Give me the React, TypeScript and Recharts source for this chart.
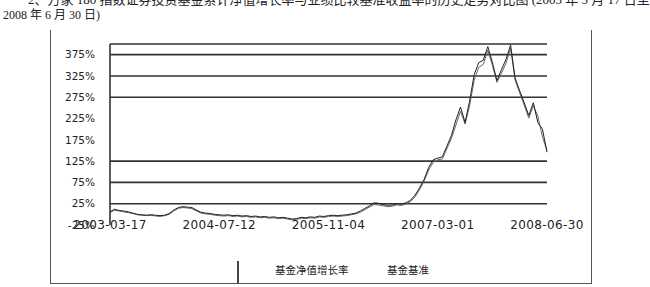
import React from 'react';
import { LineChart, Line, XAxis, YAxis, ReferenceLine } from 'recharts';

// 累计净值增长率 (%), roughly every 20 days
const fundGrowth = [
  6, 12, 9, 8, 6, 3, 0, -1, -2, -1, -2,
  -3, -2, 2, 10, 16, 18, 17, 16, 10, 5,
  3, 2, 0, -1, -2, -1, -3, -2, -4, -3,
  -5, -4, -6, -5, -7, -6, -8, -7, -9, -11,
  -10, -7, -8, -6, -7, -4, -5, -3, -2, -3,
  -2, -1, 1, 3, 8, 14, 20, 27, 26, 23,
  21, 22, 25, 24, 27, 33, 45, 62, 82, 110,
  128, 132, 135, 160, 185, 222, 252, 216, 266, 328,
  356, 362, 394, 357, 314, 340, 364, 398, 320, 290,
  262, 232, 262, 215, 200, 146,
];

// 业绩比较基准收益率 (%)
const benchmarkReturn = [
  4, 10, 8, 6, 4, 2, -1, -2, -3, -2, -4,
  -5, -3, 0, 8, 14, 16, 15, 13, 8, 3,
  1, 0, -2, -3, -4, -3, -5, -4, -6, -5,
  -7, -6, -8, -7, -9, -8, -10, -9, -11, -13,
  -12, -9, -10, -8, -9, -6, -7, -5, -4, -5,
  -4, -3, -1, 1, 5, 11, 17, 23, 22, 20,
  18, 19, 22, 21, 24, 30, 41, 58, 78, 104,
  122, 128, 130, 154, 178, 210, 242, 212, 255, 315,
  345, 352, 385, 350, 310, 332, 355, 390, 315, 285,
  256, 226, 255, 230, 182, 150,
];

const dateLabels = ['2003-03-17', '2004-07-12', '2005-11-04', '2007-03-01', '2008-06-30'];
const yTicks = [-25, 25, 75, 125, 175, 225, 275, 325, 375];
// only these rules survived in the scan (400 is the top edge)
const gridValues = [25, 75, 125, 275, 325, 375, 400];
const seriesNames = ['基金净值增长率', '基金基准'];

const data = fundGrowth.map((v, i) => ({ idx: i, fund: v, bench: benchmarkReturn[i] }));
const last = fundGrowth.length - 1;
const xTicks = dateLabels.map((_, i) => (last * i) / (dateLabels.length - 1));

const serif = '"Liberation Serif", "Noto Sans CJK SC", serif';
const ink = '#333';

export default function App() {
  return (
    <div style={{ position: 'absolute', left: 0, top: 0, width: 650, height: 287, background: '#fff', overflow: 'hidden', fontFamily: serif, color: '#222' }}>
      {/* caption, first line is cut by the page edge */}
      <div style={{ position: 'absolute', left: 28, top: -8, fontSize: 13, lineHeight: '16px', whiteSpace: 'nowrap' }}>
        2、万家 180 指数证券投资基金累计净值增长率与业绩比较基准收益率的历史走势对比图 (2003 年 3 月 17 日至
      </div>
      <div style={{ position: 'absolute', left: 3, top: 7, fontSize: 12, lineHeight: '16px', whiteSpace: 'nowrap' }}>
        2008 年 6 月 30 日)
      </div>

      {/* outer frame */}
      <div style={{ position: 'absolute', left: 50, top: 30, width: 540, height: 253, borderLeft: '1.5px solid #555', borderRight: '1.5px solid #555', borderBottom: '1.5px solid #555' }} />

      <div style={{ position: 'absolute', left: 0, top: 0 }}>
        <LineChart width={650} height={287} data={data} margin={{ top: 44, right: 103, bottom: 42, left: 0 }}>
          <XAxis
            dataKey="idx"
            type="number"
            domain={[0, last]}
            ticks={xTicks}
            tickFormatter={(v: number) => dateLabels[xTicks.indexOf(v)] ?? ''}
            height={20}
            axisLine={false}
            tickLine={false}
            tickSize={0}
            tickMargin={-5}
            interval={0}
            tick={{ fontSize: 12, fill: '#222', fontFamily: 'DejaVu Sans', letterSpacing: 0.4 }}
          />
          <YAxis
            domain={[-25, 400]}
            allowDataOverflow
            ticks={yTicks}
            tickFormatter={(v: number) => `${v}%`}
            width={110}
            tickLine={false}
            tickSize={6}
            tickMargin={9}
            axisLine={{ stroke: ink, strokeWidth: 1.6 }}
            tick={{ fontSize: 10.5, fill: '#222', fontFamily: 'DejaVu Sans' }}
          />
          <YAxis
            yAxisId="right"
            orientation="right"
            domain={[-25, 400]}
            width={0}
            tick={false}
            tickLine={false}
            axisLine={{ stroke: ink, strokeWidth: 1.6 }}
          />
          {gridValues.map((v) => (
            <ReferenceLine key={v} y={v} stroke={ink} strokeWidth={1.6} ifOverflow="extendDomain" />
          ))}
          <Line dataKey="bench" name={seriesNames[1]} stroke="#666" strokeWidth={1} dot={false} isAnimationActive={false} />
          <Line dataKey="fund" name={seriesNames[0]} stroke="#222" strokeWidth={1} dot={false} isAnimationActive={false} />
        </LineChart>
      </div>

      {/* legend */}
      <div style={{ position: 'absolute', left: 237, top: 261, width: 1.5, height: 22, background: '#444' }} />
      <div style={{ position: 'absolute', left: 275, top: 262, fontSize: 10.5, lineHeight: '16px', fontFamily: '"Noto Sans CJK SC"', whiteSpace: 'nowrap' }}>
        {seriesNames[0]}
      </div>
      <div style={{ position: 'absolute', left: 387, top: 262, fontSize: 10.5, lineHeight: '16px', fontFamily: '"Noto Sans CJK SC"', whiteSpace: 'nowrap' }}>
        {seriesNames[1]}
      </div>
    </div>
  );
}
